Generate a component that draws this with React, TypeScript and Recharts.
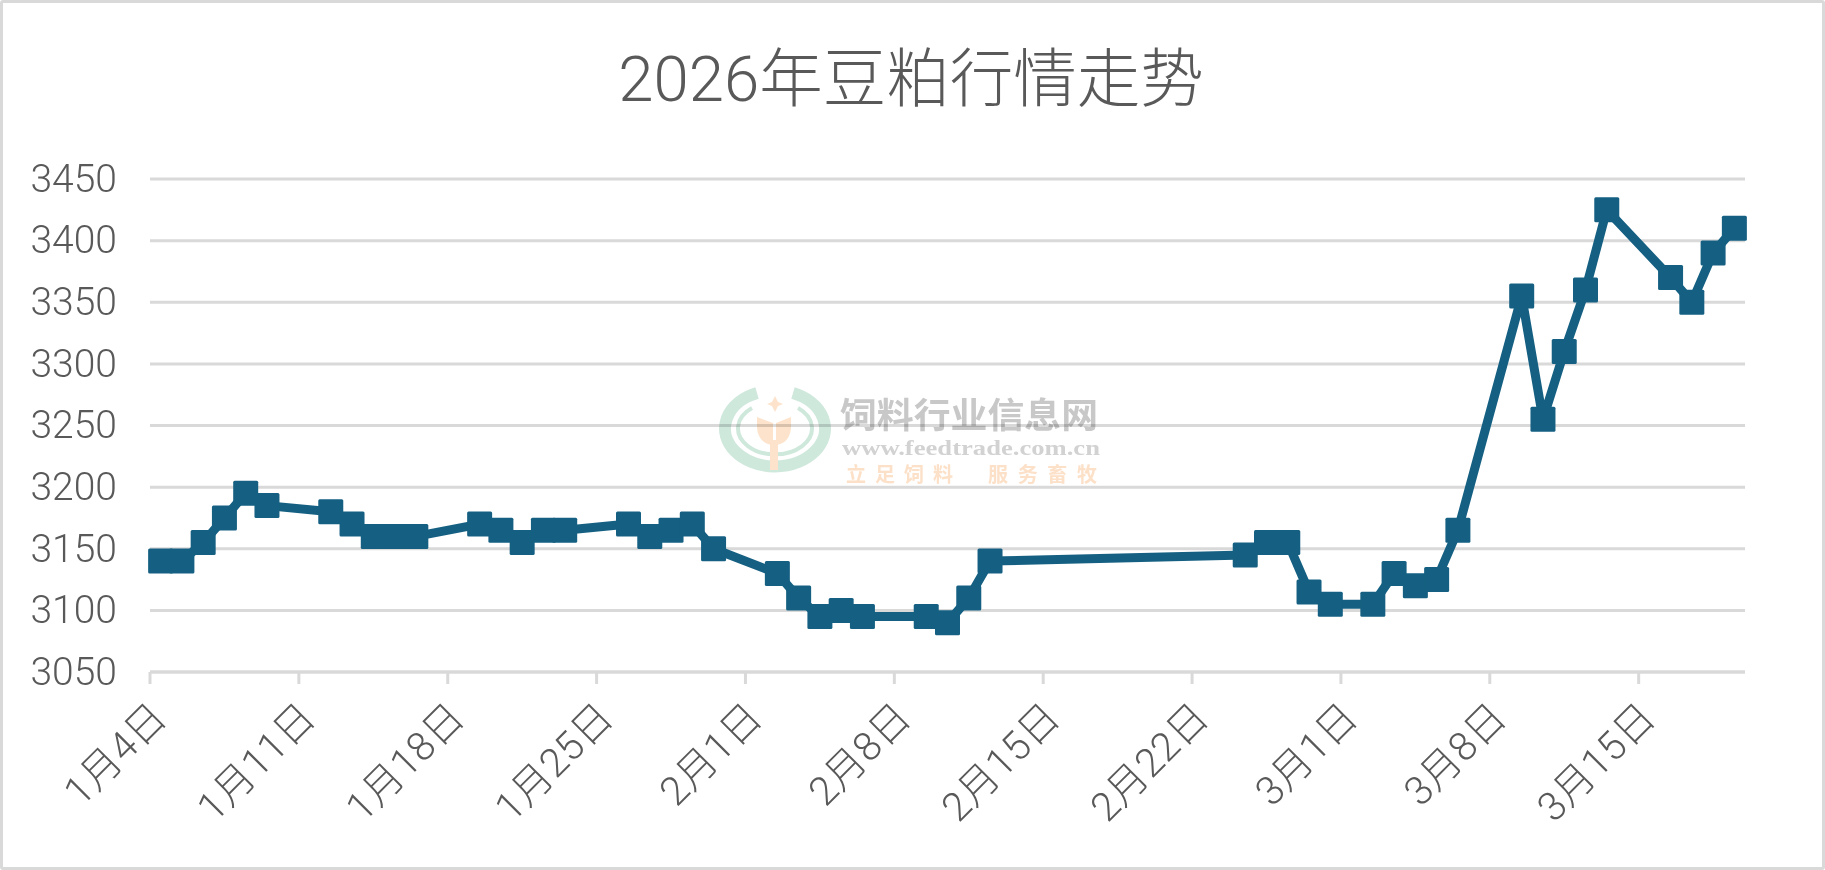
import React from 'react';
import { LineChart, Line, XAxis, YAxis, CartesianGrid } from 'recharts';

const tradeDates = [
  '1-4', '1-5', '1-6', '1-7', '1-8', '1-9',
  '1-12', '1-13', '1-14', '1-15', '1-16',
  '1-19', '1-20', '1-21', '1-22', '1-23',
  '1-26', '1-27', '1-28', '1-29', '1-30',
  '2-2', '2-3', '2-4', '2-5', '2-6',
  '2-9', '2-10', '2-11', '2-12',
  '2-24', '2-25', '2-26', '2-27', '2-28',
  '3-2', '3-3', '3-4', '3-5', '3-6',
  '3-9', '3-10', '3-11', '3-12', '3-13',
  '3-16', '3-17', '3-18', '3-19',
];
const prices = [
  3140, 3140, 3155, 3175, 3195, 3185,
  3180, 3170, 3160, 3160, 3160,
  3170, 3165, 3155, 3165, 3165,
  3170, 3160, 3165, 3170, 3150,
  3130, 3110, 3095, 3100, 3095,
  3095, 3090, 3110, 3140,
  3145, 3155, 3155, 3115, 3105,
  3105, 3130, 3120, 3125, 3165,
  3355, 3255, 3310, 3360, 3425,
  3370, 3350, 3390, 3410,
];
const xTickDays = [0, 7, 14, 21, 28, 35, 42, 49, 56, 63, 70];
const xTickLabels = ['1月4日', '1月11日', '1月18日', '1月25日', '2月1日', '2月8日', '2月15日', '2月22日', '3月1日', '3月8日', '3月15日'];
const yTicks = [3050, 3100, 3150, 3200, 3250, 3300, 3350, 3400, 3450];

const TEXT_FONT = 'Roboto, "Noto Sans CJK SC", sans-serif';
const LINE_COLOR = '#156082';
const GRID_COLOR = '#D9D9D9';

const dayOf = (date: string) => {
  const [m, d] = date.split('-').map(Number);
  return (Date.UTC(2026, m - 1, d) - Date.UTC(2026, 0, 4)) / 86400000;
};

// date axis: each day owns a slot, the point sits in the middle of it
const data = tradeDates.map((date, i) => ({ day: dayOf(date) + 0.5, price: prices[i] }));

const SquareDot = ({ cx, cy }: any) => (
  <rect x={cx - 12.5} y={cy - 12.5} width={25} height={25} rx={1.5} fill={LINE_COLOR} />
);

const DateTick = ({ x, y, payload }: any) => {
  const label = xTickLabels[xTickDays.indexOf(payload.value)];
  return (
    <text
      x={x + 19}
      y={y + 34}
      textAnchor="end"
      fontFamily={TEXT_FONT}
      fontWeight={300}
      fontSize={40}
      fill="#595959"
      transform={`rotate(-45 ${x + 19} ${y + 34})`}
    >
      {label}
    </text>
  );
};

const Watermark = () => (
  <svg width={1825} height={870} style={{ position: 'absolute', left: 0, top: 0, mixBlendMode: 'multiply', pointerEvents: 'none' }}>
    <g fill="none" stroke="#CFE8DC">
      <path d="M 757 393 A 50 38 0 1 0 793 393" strokeWidth={12} />
      <path d="M 752 408 A 37 26 0 1 0 798 408" strokeWidth={4} />
    </g>
    <g fill="#FDE3CB">
      <path d="M 775 396 L 778 402 L 783 404 L 778 406 L 775 412 L 772 406 L 767 404 L 772 402 Z" />
      <path d="M 757 417 L 773 423 L 773 445 C 762 444 757 436 757 426 Z" />
      <path d="M 791 417 L 776 423 L 776 445 C 786 444 791 436 791 426 Z" />
      <rect x={770} y={440} width={8} height={30} />
    </g>
    <text x={840} y={428} fontFamily='"Noto Sans CJK SC"' fontWeight={700} fontSize={35} fill="#C8C8C8" textLength={258} lengthAdjust="spacingAndGlyphs">饲料行业信息网</text>
    <text x={842} y={455} fontFamily='"Liberation Serif"' fontWeight={700} fontSize={22} fill="#D2D2D2" textLength={258} lengthAdjust="spacingAndGlyphs">www.feedtrade.com.cn</text>
    <text x={846} y={482} fontFamily='"Noto Sans CJK SC"' fontWeight={700} fontSize={20} fill="#FCE0C8" textLength={107}>立足饲料</text>
    <text x={988} y={482} fontFamily='"Noto Sans CJK SC"' fontWeight={700} fontSize={20} fill="#FCE0C8" textLength={109}>服务畜牧</text>
  </svg>
);

export default function App() {
  return (
    <div style={{ position: 'absolute', left: 0, top: 0, width: 1825, height: 870, background: '#fff' }}>
      <LineChart width={1825} height={870} data={data} margin={{ top: 179, right: 80, bottom: 0, left: 0 }}>
        <CartesianGrid vertical={false} stroke={GRID_COLOR} strokeWidth={3} />
        <XAxis
          dataKey="day"
          type="number"
          domain={[0, 75]}
          ticks={xTickDays}
          interval={0}
          height={198}
          stroke={GRID_COLOR}
          strokeWidth={3}
          tickSize={12}
          tick={<DateTick />}
        />
        <YAxis
          domain={[3050, 3450]}
          ticks={yTicks}
          width={150}
          axisLine={false}
          tickLine={false}
          tickSize={0}
          tickMargin={33}
          tick={{ fontFamily: TEXT_FONT, fontWeight: 300, fontSize: 39, fill: '#595959', dy: -1 }}
        />
        <Line
          dataKey="price"
          type="linear"
          stroke={LINE_COLOR}
          strokeWidth={9}
          strokeLinejoin="round"
          dot={<SquareDot />}
          isAnimationActive={false}
        />
      </LineChart>
      <Watermark />
      <div
        style={{
          position: 'absolute',
          left: 0,
          top: 44,
          width: 1822,
          textAlign: 'center',
          fontFamily: TEXT_FONT,
          fontWeight: 300,
          fontSize: 63.5,
          lineHeight: '72px',
          color: '#595959',
        }}
      >
        2026年豆粕行情走势
      </div>
      <div style={{ position: 'absolute', left: 0, top: 0, width: 1819, height: 864, border: '3px solid #D9D9D9', borderRadius: 3, pointerEvents: 'none' }} />
    </div>
  );
}
